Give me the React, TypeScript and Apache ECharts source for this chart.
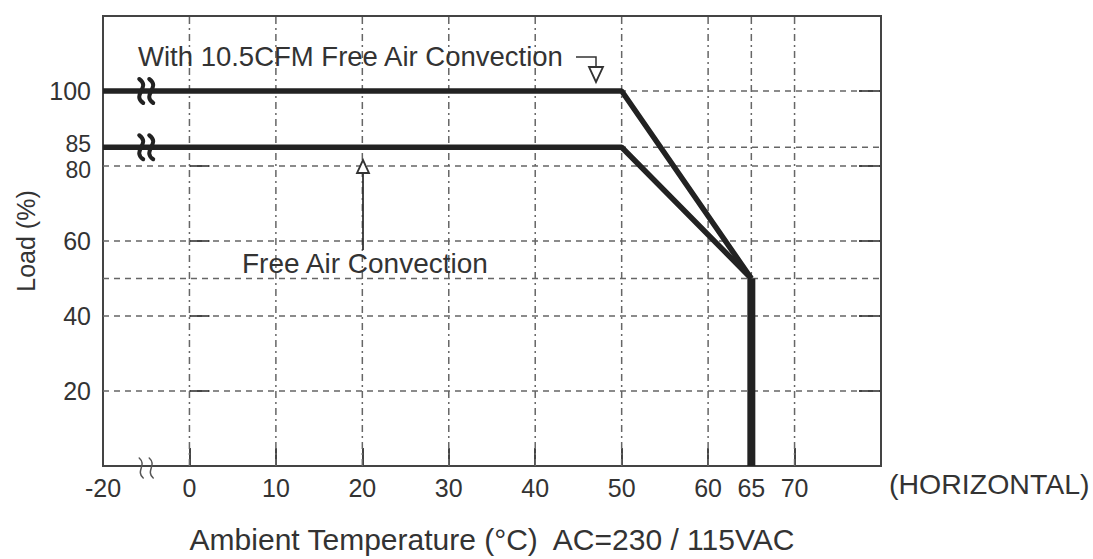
import React, { useEffect, useRef } from "react";
import * as echarts from "echarts";

// ---- data ----
// x positions: the axis is broken, the left edge (-10 on the scale) is labelled "-20"
const upperTemp = [-10, 50, 65];
const upperLoad = [100, 100, 50];
const lowerTemp = [-10, 50, 65];
const lowerLoad = [85, 85, 50];
const cutoffTemp = [65, 65];
const cutoffLoad = [50, 0];

const xTickValues = [0, 10, 20, 30, 40, 50, 60, 65, 70];
const xLabelValues = [-10, 0, 10, 20, 30, 40, 50, 60, 65, 70];
const xLabelTexts = ["-20", "0", "10", "20", "30", "40", "50", "60", "65", "70"];
const yLabelValues = [20, 40, 60, 80, 85, 100];
const yTickValues = [20, 40, 60, 80, 100];
const hGridValues = [20, 40, 50, 60, 80, 85, 100];
const vGridValues = [0, 10, 20, 30, 40, 50, 60, 65, 70];
const lineBreaks = [[-5, 100], [-5, 85]];
const axisBreaks = [[-5, 0]];

const X_MIN = -10;
const X_MAX = 80;
const Y_MIN = 0;
const Y_MAX = 120;

const FONT = "'Liberation Sans', Arial, Helvetica, sans-serif";
const TEXT = "#333";
const INK = "#222";

function squiggles(cx: number, cy: number, h: number, w: number, stroke: string, lw: number) {
  return [-5, 5].map((dx) => ({
    type: "bezierCurve",
    shape: {
      x1: cx + dx - 2,
      y1: cy - h,
      cpx1: cx + dx + w,
      cpy1: cy - h * 0.3,
      cpx2: cx + dx - w,
      cpy2: cy + h * 0.3,
      x2: cx + dx + 2,
      y2: cy + h,
    },
    style: { stroke, lineWidth: lw, fill: "none", lineCap: "round" },
  }));
}

export default function App() {
  const ref = useRef<HTMLDivElement>(null);

  useEffect(() => {
    if (!ref.current) return;
    const chart = echarts.init(ref.current, null, { renderer: "svg" });

    const option: any = {
      animation: false,
      backgroundColor: "#fff",
      textStyle: { fontFamily: FONT },
      grid: {
        left: 103,
        right: 212,
        top: 16,
        bottom: 93,
        show: true,
        borderColor: "#444",
        borderWidth: 2,
        containLabel: false,
      },
      xAxis: {
        type: "value",
        min: X_MIN,
        max: X_MAX,
        name: "Ambient Temperature (°C)  AC=230 / 115VAC",
        nameLocation: "middle",
        nameGap: 58,
        nameTextStyle: { fontSize: 30, color: TEXT, fontFamily: FONT },
        splitLine: { show: false },
        axisLine: { show: false },
        axisTick: {
          show: true,
          inside: true,
          length: 18,
          customValues: xTickValues,
          lineStyle: { color: "#444", width: 2 },
        },
        axisLabel: {
          customValues: xLabelValues,
          formatter: (v: number) => {
            const i = xLabelValues.indexOf(v);
            return i >= 0 ? xLabelTexts[i] : "";
          },
          fontSize: 25,
          color: TEXT,
          margin: 9,
          fontFamily: FONT,
        },
      },
      yAxis: [
        {
          type: "value",
          min: Y_MIN,
          max: Y_MAX,
          name: "Load (%)",
          nameLocation: "middle",
          nameRotate: 90,
          nameGap: 62,
          nameTextStyle: { fontSize: 25, color: TEXT, fontFamily: FONT },
          splitLine: { show: false },
          axisLine: { show: false },
          axisTick: {
            show: true,
            inside: true,
            length: 20,
            customValues: yTickValues,
            lineStyle: { color: "#444", width: 2 },
          },
          axisLabel: {
            customValues: yLabelValues,
            formatter: (v: number) =>
              v === 85 ? "{up|85}" : v === 80 ? "{dn|80}" : String(v),
            rich: {
              up: { fontSize: 23, lineHeight: 19, padding: [0, 0, 7, 0], color: TEXT, fontFamily: FONT },
              dn: { fontSize: 23, lineHeight: 19, padding: [7, 0, 0, 0], color: TEXT, fontFamily: FONT },
            },
            fontSize: 25,
            color: TEXT,
            margin: 12,
            fontFamily: FONT,
          },
        },
        {
          type: "value",
          position: "right",
          min: Y_MIN,
          max: Y_MAX,
          splitLine: { show: false },
          axisLine: { show: false },
          axisTick: {
            show: true,
            inside: true,
            length: 22,
            customValues: yTickValues,
            lineStyle: { color: "#444", width: 2 },
          },
          axisLabel: { show: false },
        },
      ],
      series: [
        {
          type: "custom",
          name: "hgrid",
          z: 1,
          silent: true,
          data: hGridValues.map((v) => [X_MIN, v]),
          renderItem: (params: any, api: any) => {
            const y = api.value(1);
            const p1 = api.coord([X_MIN, y]);
            const p2 = api.coord([X_MAX, y]);
            return {
              type: "line",
              shape: { x1: p1[0], y1: p1[1], x2: p2[0], y2: p2[1] },
              style: { stroke: "#666", lineWidth: 1.5, lineDash: [6, 5] },
            };
          },
        },
        {
          type: "custom",
          name: "vgrid",
          z: 1,
          silent: true,
          data: vGridValues.map((v) => [v, Y_MIN]),
          renderItem: (params: any, api: any) => {
            const x = api.value(0);
            const p1 = api.coord([x, Y_MIN]);
            const p2 = api.coord([x, Y_MAX]);
            return {
              type: "line",
              shape: { x1: p1[0], y1: p1[1], x2: p2[0], y2: p2[1] },
              style: { stroke: "#666", lineWidth: 1.5, lineDash: [7, 4, 2, 4] },
            };
          },
        },
        {
          type: "line",
          name: "With 10.5CFM Free Air Convection",
          z: 3,
          symbol: "none",
          data: upperTemp.map((t, i) => [t, upperLoad[i]]),
          lineStyle: { color: INK, width: 5.5 },
        },
        {
          type: "line",
          name: "Free Air Convection",
          z: 3,
          symbol: "none",
          data: lowerTemp.map((t, i) => [t, lowerLoad[i]]),
          lineStyle: { color: INK, width: 5.5 },
        },
        {
          type: "line",
          name: "cutoff",
          z: 3,
          symbol: "none",
          data: cutoffTemp.map((t, i) => [t, cutoffLoad[i]]),
          lineStyle: { color: INK, width: 8, cap: "butt" },
        },
        {
          type: "custom",
          name: "lineBreaks",
          z: 4,
          silent: true,
          data: lineBreaks,
          renderItem: (params: any, api: any) => {
            const p = api.coord([api.value(0), api.value(1)]);
            return { type: "group", children: squiggles(p[0], p[1], 12, 10, INK, 4) };
          },
        },
        {
          type: "custom",
          name: "axisBreaks",
          z: 4,
          silent: true,
          data: axisBreaks,
          renderItem: (params: any, api: any) => {
            const p = api.coord([api.value(0), api.value(1)]);
            return { type: "group", children: squiggles(p[0], p[1] + 2, 10, 6, "#555", 1.5) };
          },
        },
      ],
      graphic: [
        {
          type: "text",
          left: 138,
          top: 42,
          style: { text: "With 10.5CFM Free Air Convection", fontSize: 27.5, fill: TEXT, fontFamily: FONT },
          z: 10,
        },
        {
          type: "polyline",
          shape: { points: [[576, 57], [596, 57], [596, 67]] },
          style: { stroke: "#333", lineWidth: 1.5, fill: "none" },
          z: 10,
        },
        {
          type: "polygon",
          shape: { points: [[589, 67], [603, 67], [596, 82]] },
          style: { stroke: "#333", lineWidth: 1.8, fill: "#fff" },
          z: 10,
        },
        {
          type: "line",
          shape: { x1: 363, y1: 173, x2: 363, y2: 250 },
          style: { stroke: "#333", lineWidth: 1.8 },
          z: 10,
        },
        {
          type: "polygon",
          shape: { points: [[363, 160], [357, 173], [369, 173]] },
          style: { stroke: "#333", lineWidth: 1.8, fill: "#fff" },
          z: 10,
        },
        {
          type: "text",
          left: 242,
          top: 249,
          style: { text: "Free Air Convection", fontSize: 28, fill: TEXT, fontFamily: FONT },
          z: 10,
        },
        {
          type: "text",
          left: 889,
          top: 469,
          style: { text: "(HORIZONTAL)", fontSize: 28.5, fill: TEXT, fontFamily: FONT },
          z: 10,
        },
      ],
    };

    chart.setOption(option);
    return () => chart.dispose();
  }, []);

  return (
    <div
      ref={ref}
      style={{ position: "fixed", left: 0, top: 0, width: 1093, height: 559, background: "#fff" }}
    />
  );
}
